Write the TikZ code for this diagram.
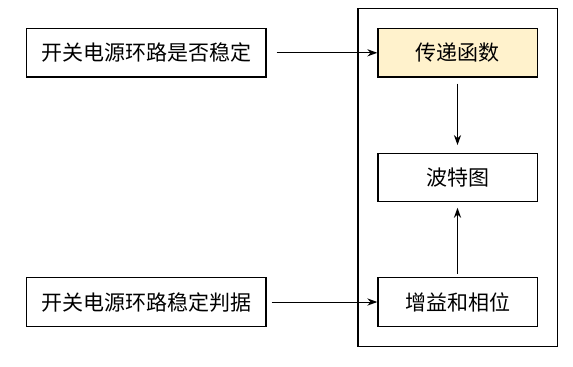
\documentclass[tikz,border=0pt]{standalone}
\usepackage{fontspec}
\newfontfamily\cjk{Noto Sans CJK SC}
\usepackage{xcolor}
\usepackage{tikz}
\usetikzlibrary{arrows.meta,positioning,fit}

\definecolor{tfyellow}{HTML}{FFF2CC}

\begin{document}
\begin{tikzpicture}[
    node distance=37.5pt,
    box/.style={rectangle, draw, line width=0.6pt, minimum width=79.6pt, minimum height=24.2pt, align=center, inner sep=0pt, font=\cjk\fontsize{10.5}{12}\selectfont},
    wide/.style={box, minimum width=119.7pt},
    arrow/.style={-{Stealth[length=5pt,width=3.6pt]}, line width=0.5pt}
]
    % canvas
    \useasboundingbox (0,0) rectangle (286.5pt,-183pt);

    % questions on the left
    \node[wide] (stable) at (73.1pt,-26.4pt) {开关电源环路是否稳定};

    % chain inside the frame
    \node[box, fill=tfyellow, right=55.4pt of stable] (tf) {传递函数};
    \node[box, below=of tf] (bode) {波特图};
    \node[box, below=of bode] (gain) {增益和相位};

    \node[wide, left=55.4pt of gain] (criterion) {开关电源环路稳定判据};

    % frame
    \node[draw, line width=0.6pt, inner sep=9.7pt, fit=(tf)(bode)(gain)] (frame) {};

    % Arrows
    \draw[arrow, shorten <=5pt] (stable) -- (tf);
    \draw[arrow, shorten <=2.5pt] (criterion) -- (gain);
    \draw[arrow, shorten <=3pt, shorten >=3.8pt] (tf) -- (bode);
    \draw[arrow, shorten <=1.7pt, shorten >=2.8pt] (gain) -- (bode);

\end{tikzpicture}
\end{document}
